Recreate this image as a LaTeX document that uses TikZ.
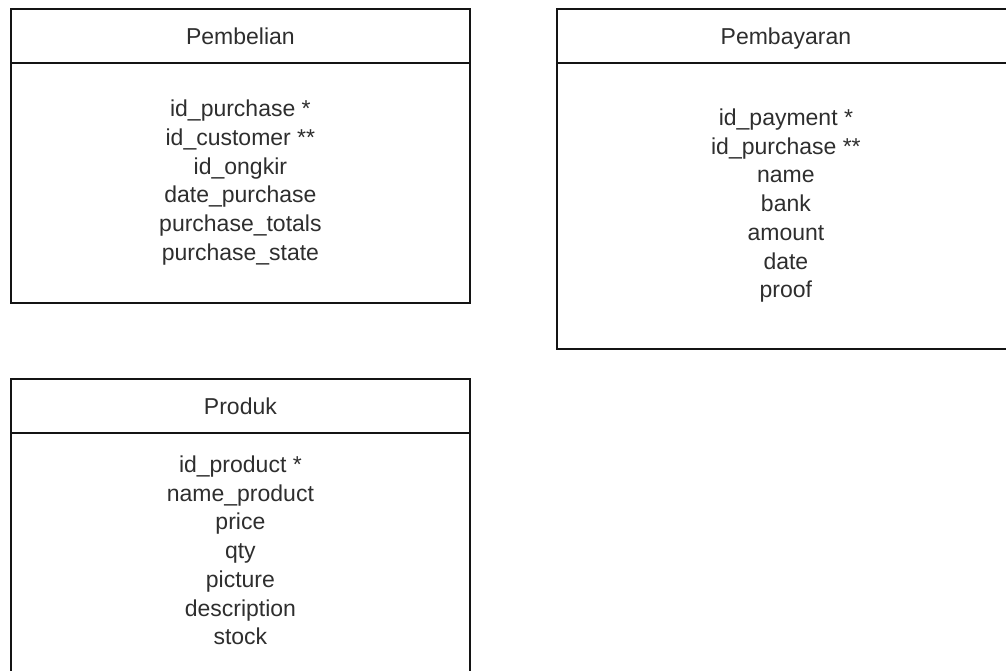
\documentclass[tikz,border=0pt]{standalone}
\usepackage{fontspec}
\setmainfont{Liberation Sans}
\begin{document}
\begin{tikzpicture}[x=1pt,y=-1pt]
\tikzset{
  tbox/.style={draw=black!92, line width=1.8pt, inner sep=0pt, anchor=north west,
    text=black!82, font=\fontsize{23}{28.7}\selectfont, align=center},
  thead/.style={tbox, minimum height=54pt, text height=16.5pt, text depth=0pt},
}
\useasboundingbox (0,0) rectangle (1006,670);
\clip (0,0) rectangle (1006,670);
% Pembelian
\node[thead, minimum width=459pt] (pembelianH) at (10,8) {Pembelian};
\node[tbox, minimum width=459pt, minimum height=240pt] (pembelianB) at (10,62)
  {\strut id\_purchase *\\ id\_customer **\\ id\_ongkir\\ date\_purchase\\ purchase\_totals\\ purchase\_state\strut};
% Pembayaran
\node[thead, minimum width=458pt] (pembayaranH) at (556,8) {Pembayaran};
\node[tbox, minimum width=458pt, minimum height=286pt] (pembayaranB) at (556,62)
  {\strut id\_payment *\\ id\_purchase **\\ name\\ bank\\ amount\\ date\\ proof\strut};
% Produk
\node[thead, minimum width=459pt] (produkH) at (10,378) {Produk};
\node[tbox, minimum width=459pt, minimum height=240pt] (produkB) at (10,432)
  {\strut id\_product *\\ name\_product\\ price\\ qty\\ picture\\ description\\ stock\strut};
\end{tikzpicture}
\end{document}
